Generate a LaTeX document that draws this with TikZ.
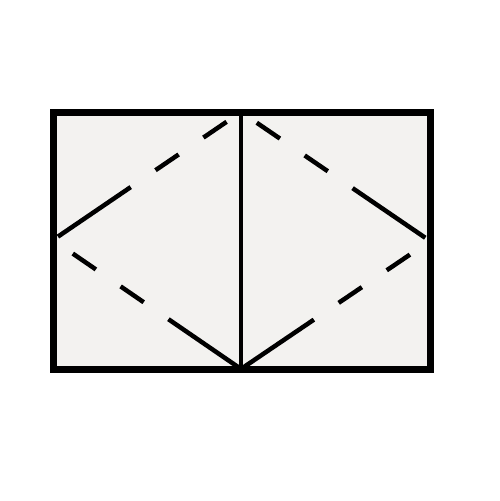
\documentclass[tikz,border=0pt]{standalone}
\definecolor{sheet}{RGB}{243,242,240}
\tikzset{%
  % Specifications for style of lines:
       frame/.style = {draw=black, line width=7pt, fill=sheet},
        fold/.style = {draw=black, line width=4.5pt},
  foldDashed/.style = {fold, dash pattern=on 88pt off 30pt on 28pt off 30pt on 28pt off 30pt},
}
\begin{document}
\begin{tikzpicture}[x=1pt, y=-1pt]
  \useasboundingbox (0,0) rectangle (500,501);
  % Specification of corner points
  \coordinate (topLeft)     at (53,112);
  \coordinate (bottomRight) at (430,369);
  \coordinate (topMid)      at (241,112);
  \coordinate (bottomMid)   at (241,369);
  \coordinate (leftMid)     at (53,240);
  \coordinate (rightMid)    at (430,241);
  % Specification of lines between points
  \draw[frame]      (topLeft) rectangle (bottomRight);
  \draw[fold]       (topMid) -- (bottomMid);
  \draw[foldDashed] (bottomMid) -- (leftMid) -- (topMid);
  \draw[foldDashed] (bottomMid) -- (rightMid) -- (topMid);
\end{tikzpicture}
\end{document}
